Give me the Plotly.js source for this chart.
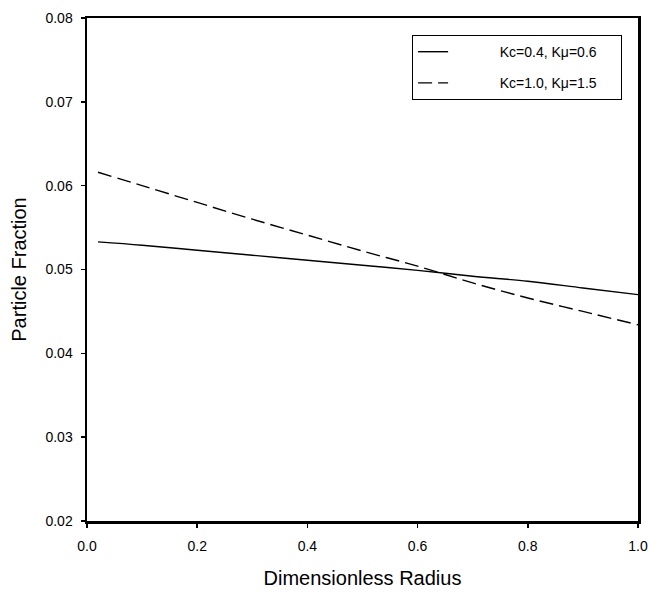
<!DOCTYPE html>
<html><head><meta charset="utf-8">
<script src="https://cdn.plot.ly/plotly-3.0.1.min.js"></script>
<style>html,body{margin:0;padding:0;background:#fff;}#chart{width:648px;height:593px;}</style>
</head><body><div id="chart"></div>
<script>
const radius = [0.02, 0.1, 0.2, 0.3, 0.4, 0.5, 0.6, 0.7, 0.8, 0.9, 1.0];
const fracA = [0.0533, 0.0529, 0.0523, 0.0517, 0.0511, 0.0505, 0.0499, 0.0492, 0.0486, 0.0478, 0.0470];
const fracB = [0.0616, 0.0600, 0.0580, 0.0560, 0.0541, 0.0522, 0.0504, 0.0484, 0.0466, 0.0450, 0.0434];
const names = ["Kc=0.4, Kμ=0.6", "Kc=1.0, Kμ=1.5"];

const font = "Liberation Sans, Arial, sans-serif";
const pad = "\u00a0".repeat(12);
const tail = "\u00a0".repeat(5);
const traces = [
  {x: radius, y: fracA, mode: "lines", name: pad + names[0] + tail, legendgroup: "a",
   line: {color: "#000", width: 1.4, dash: "solid", shape: "spline"}},
  {x: radius, y: fracB, mode: "lines", name: pad + names[1] + tail, legendgroup: "b",
   line: {color: "#000", width: 1.4, dash: "14px,6px", shape: "spline"}}
];
const axisCommon = {
  showgrid: false, zeroline: false, showline: true, mirror: true,
  linecolor: "#000", linewidth: 2.5, ticks: "outside", ticklen: 4, tickwidth: 1.5,
  tickcolor: "#000", tickfont: {family: font, size: 14, color: "#000"}
};
const layout = {
  width: 648, height: 593,
  margin: {l: 87, r: 10, t: 18, b: 72},
  paper_bgcolor: "#fff", plot_bgcolor: "#fff",
  showlegend: true,
  xaxis: Object.assign({}, axisCommon, {
    range: [0, 1], tickvals: [0, 0.2, 0.4, 0.6, 0.8, 1.0], tickformat: ".1f",
    ticklabelstandoff: 7,
    title: {text: "Dimensionless Radius", font: {family: font, size: 20, color: "#000"}, standoff: 18}
  }),
  yaxis: Object.assign({}, axisCommon, {
    range: [0.02, 0.08], tickvals: [0.02, 0.03, 0.04, 0.05, 0.06, 0.07, 0.08], tickformat: ".2f",
    ticklabelstandoff: 5,
    title: {text: "Particle Fraction", font: {family: font, size: 20, color: "#000"}, standoff: 14}
  }),
  legend: {
    x: 0.59, y: 0.966, xanchor: "left", yanchor: "top",
    bgcolor: "#fff", bordercolor: "#000", borderwidth: 1,
    font: {family: font, size: 14, color: "#000"},
    traceorder: "grouped", tracegroupgap: 10
  }
};
Plotly.newPlot("chart", traces, layout, {displayModeBar: false, staticPlot: true});
</script>
</body></html>
